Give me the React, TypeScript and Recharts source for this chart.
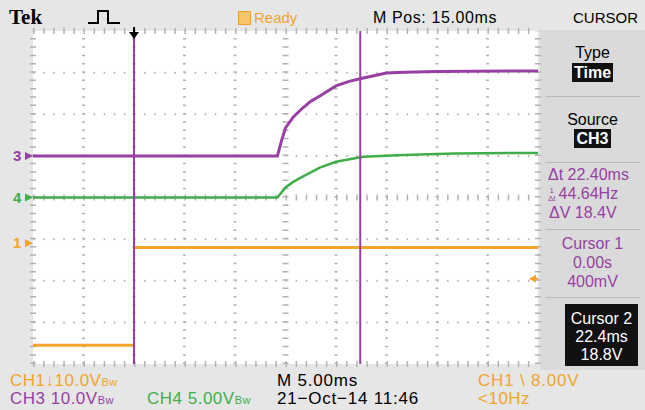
import React from "react";
import {
  LineChart,
  Line,
  XAxis,
  YAxis,
  ReferenceLine,
  ReferenceDot,
} from "recharts";

// time axis in ms (10 div x 5 ms), vertical axis in divisions
const TIME_TICKS = [0, 5, 10, 15, 20, 25, 30, 35, 40, 45, 50];
const DIV_TICKS = [-4, -3, -2, -1, 0, 1, 2, 3, 4];

// CH3 (purple, 10 V/div)
const CH3_T = [0, 24.2, 24.6, 25.0, 25.8, 26.7, 27.5, 28.4, 30.0, 31.3, 32.7, 35.0, 36.7, 40, 50];
const CH3_V = [0, 0, 3.6, 6.7, 9.4, 11.5, 13.1, 14.4, 16.8, 17.9, 18.7, 19.9, 20.1, 20.3, 20.4];

// CH4 (green, 5 V/div)
const CH4_T = [0, 24.2, 25.0, 25.8, 26.7, 28.4, 30.0, 32.7, 36.7, 41.7, 50];
const CH4_V = [0, 0, 1.2, 1.9, 2.5, 3.6, 4.3, 4.9, 5.1, 5.3, 5.35];

// CH1 (orange, 10 V/div) - null breaks the trace at the edge
const CH1_T = [0, 10, 10, 10, 50];
const CH1_V = [-24.5, -24.5, null, -1, -1];

const CH3_POS = 1.0;
const CH4_POS = 0;
const CH1_POS = -1.1;
const CH3_SCALE = 10;
const CH4_SCALE = 5;
const CH1_SCALE = 10;
const TRIG_LEVEL = -8.5;

const CURSOR1 = 10;
const CURSOR2 = 32.4;

const PURPLE = "#973fa3";
const GREEN = "#3fae4a";
const ORANGE = "#f2a52a";
const GRID = "#b2b2b2";

const FONT = "'Liberation Sans', Arial, sans-serif";

const toRows = (ts: number[], vs: (number | null)[], pos: number, scale: number) =>
  ts.map((t, i) => ({ t, y: vs[i] == null ? null : pos + (vs[i] as number) / scale }));

const ch3 = toRows(CH3_T, CH3_V, CH3_POS, CH3_SCALE);
const ch4 = toRows(CH4_T, CH4_V, CH4_POS, CH4_SCALE);
const ch1 = toRows(CH1_T, CH1_V, CH1_POS, CH1_SCALE);

const ChannelMarker = (label: string, color: string) => (props: any) => {
  const { cx, cy } = props;
  return (
    <g>
      <text x={cx - 20} y={cy + 5} fill={color} fontSize={15} fontWeight='bold' fontFamily={FONT}>
        {label}
      </text>
      <polygon points={`${cx - 8},${cy - 4} ${cx},${cy} ${cx - 8},${cy + 4}`} fill={color} />
    </g>
  );
};

const TrigPosMarker = (props: any) => {
  const { cx, cy } = props;
  return (
    <g>
      <line x1={cx} y1={cy - 4} x2={cx} y2={cy + 4} stroke='#000' strokeWidth={2} />
      <polygon points={`${cx - 5},${cy + 1} ${cx + 5},${cy + 1} ${cx},${cy + 8}`} fill='#000' />
    </g>
  );
};

const TrigLevelMarker = (props: any) => {
  const { cx, cy } = props;
  return (
    <g>
      <polygon points={`${cx - 9},${cy} ${cx - 2},${cy - 4} ${cx - 2},${cy + 4}`} fill={ORANGE} />
      <line x1={cx - 3} y1={cy} x2={cx} y2={cy} stroke={ORANGE} strokeWidth={2} />
    </g>
  );
};

const Txt = ({
  x,
  y,
  color = "#000",
  size = 17,
  children,
  style = {},
}: {
  x: number;
  y: number;
  color?: string;
  size?: number;
  children: React.ReactNode;
  style?: React.CSSProperties;
}) => (
  <div
    style={{
      position: "absolute",
      left: x,
      top: y,
      color,
      fontSize: size,
      fontFamily: FONT,
      lineHeight: 1,
      whiteSpace: "nowrap",
      ...style,
    }}
  >
    {children}
  </div>
);

const Center = ({
  y,
  color = "#000",
  size = 16,
  children,
  box,
  left = 540,
  width = 105,
}: {
  y: number;
  color?: string;
  size?: number;
  children: React.ReactNode;
  box?: boolean;
  left?: number;
  width?: number;
}) => (
  <div
    style={{
      position: "absolute",
      left,
      width,
      top: y,
      textAlign: "center",
      fontFamily: FONT,
      fontSize: size,
      lineHeight: 1,
      color,
    }}
  >
    <span
      style={
        box
          ? { background: "#111", color: "#fff", padding: "1px 2px", fontWeight: "bold" }
          : {}
      }
    >
      {children}
    </span>
  </div>
);

const Sep = ({ y }: { y: number }) => (
  <div
    style={{
      position: "absolute",
      left: 546,
      width: 94,
      top: y,
      height: 1,
      background: "#b8b8b8",
    }}
  />
);

const Bw = () => <span style={{ fontSize: 11 }}>Bw</span>;

export default function App() {
  return (
    <div
      style={{
        position: "absolute",
        left: 0,
        top: 0,
        width: 645,
        height: 410,
        overflow: "hidden",
        background: "#e6e6e6",
      }}
    >
      <div
        style={{
          position: "absolute",
          left: 540,
          top: 30,
          width: 105,
          height: 340,
          background: "#dadada",
        }}
      />
      {/* screen background */}
      <div
        style={{
          position: "absolute",
          left: 33,
          top: 31,
          width: 505,
          height: 333,
          background: "#ffffff",
        }}
      />
      <div style={{ position: "absolute", left: 0, top: 0 }}>
        <LineChart
          width={645}
          height={410}
          margin={{ top: 31, right: 107, bottom: 46, left: 33 }}
        >
          <XAxis
            type='number'
            dataKey='t'
            domain={[0, 50]}
            ticks={TIME_TICKS}
            hide
            allowDataOverflow
          />
          <YAxis type='number' domain={[-4, 4]} ticks={DIV_TICKS} hide allowDataOverflow />

          {DIV_TICKS.map((d) => (
            <ReferenceLine
              key={`h${d}`}
              y={d}
              stroke={GRID}
              strokeWidth={d === 0 || Math.abs(d) === 4 ? 6 : 2}
              strokeDasharray='1.5 8.6'
            />
          ))}
          {TIME_TICKS.map((t) => (
            <ReferenceLine
              key={`v${t}`}
              x={t}
              stroke={GRID}
              strokeWidth={t === 25 || t === 0 || t === 50 ? 6 : 3}
              strokeDasharray='1.5 6.82'
            />
          ))}

          <Line
            data={ch1}
            dataKey='y'
            type='linear'
            stroke={ORANGE}
            strokeWidth={3}
            dot={false}
            isAnimationActive={false}
          />
          <Line
            data={ch4}
            dataKey='y'
            type='linear'
            stroke={GREEN}
            strokeWidth={2.5}
            dot={false}
            isAnimationActive={false}
          />
          <Line
            data={ch3}
            dataKey='y'
            type='linear'
            stroke={PURPLE}
            strokeWidth={3}
            dot={false}
            isAnimationActive={false}
          />

          <ReferenceLine x={CURSOR1} stroke={PURPLE} strokeWidth={2} />
          <ReferenceLine x={CURSOR2} stroke={PURPLE} strokeWidth={2} />

          <ReferenceDot x={0} y={CH3_POS} ifOverflow='visible' shape={ChannelMarker("3", PURPLE)} />
          <ReferenceDot x={0} y={CH4_POS} ifOverflow='visible' shape={ChannelMarker("4", GREEN)} />
          <ReferenceDot x={0} y={CH1_POS} ifOverflow='visible' shape={ChannelMarker("1", ORANGE)} />
          <ReferenceDot x={CURSOR1} y={4} ifOverflow='visible' shape={TrigPosMarker} />
          <ReferenceDot
            x={50}
            y={CH1_POS + TRIG_LEVEL / CH1_SCALE}
            ifOverflow='visible'
            shape={TrigLevelMarker}
          />
        </LineChart>
      </div>

      {/* top bar */}
      <Txt x={9} y={7} size={21} style={{ fontFamily: "'Liberation Serif', serif", fontWeight: "bold" }}>
        Tek
      </Txt>
      <svg style={{ position: "absolute", left: 86, top: 8 }} width={40} height={18}>
        <path d='M2 15 H12 V3 H22 V15 H34' fill='none' stroke='#000' strokeWidth={2} />
      </svg>
      <div
        style={{
          position: "absolute",
          left: 238,
          top: 11,
          width: 11,
          height: 12,
          background: "#f6c56a",
          border: "1px solid #f0a030",
        }}
      />
      <Txt x={254} y={10} size={15} color={ORANGE}>
        Ready
      </Txt>
      <Txt x={373} y={10} size={16} style={{ letterSpacing: 0.6 }}>
        M Pos: 15.00ms
      </Txt>
      <Txt x={573} y={10} size={15}>
        CURSOR
      </Txt>

      {/* right menu */}
      <Center y={45}>Type</Center>
      <Center y={65} box>
        Time
      </Center>
      <Sep y={96} />
      <Center y={112}>Source</Center>
      <Center y={131} box>
        CH3
      </Center>
      <Sep y={162} />
      <Txt x={548} y={167} size={16} color={PURPLE}>
        Δt 22.40ms
      </Txt>
      <Txt x={548} y={186} size={16} color={PURPLE}>
        <span
          style={{
            display: "inline-block",
            fontSize: 8,
            lineHeight: "8px",
            textAlign: "center",
            verticalAlign: "middle",
            marginRight: 3,
          }}
        >
          1<br />Δt
        </span>
        44.64Hz
      </Txt>
      <Txt x={549} y={205} size={16} color={PURPLE}>
        ΔV 18.4V
      </Txt>
      <Sep y={229} />
      <Center y={236} color={PURPLE}>
        Cursor 1
      </Center>
      <Center y={255} color={PURPLE}>
        0.00s
      </Center>
      <Center y={274} color={PURPLE}>
        400mV
      </Center>
      <Sep y={297} />
      <div
        style={{
          position: "absolute",
          left: 565,
          top: 304,
          width: 73,
          height: 62,
          background: "#111",
        }}
      />
      <Center y={311} left={565} width={73} color='#fff'>
        Cursor 2
      </Center>
      <Center y={329} left={565} width={73} color='#fff'>
        22.4ms
      </Center>
      <Center y={347} left={565} width={73} color='#fff'>
        18.8V
      </Center>

      {/* bottom status */}
      <Txt x={10} y={372} color={ORANGE} style={{ letterSpacing: 0.5 }}>
        CH1↓10.0V<Bw />
      </Txt>
      <Txt x={277} y={372} style={{ letterSpacing: 0.8 }}>
        M 5.00ms
      </Txt>
      <Txt x={478} y={372} color={ORANGE} style={{ letterSpacing: 0.8 }}>
        CH1 \ 8.00V
      </Txt>
      <Txt x={10} y={390} color={PURPLE} style={{ letterSpacing: 0.5 }}>
        CH3  10.0V<Bw />
      </Txt>
      <Txt x={147} y={390} color={GREEN} style={{ letterSpacing: 0.5 }}>
        CH4  5.00V<Bw />
      </Txt>
      <Txt x={277} y={390} style={{ letterSpacing: 0.8 }}>
        21−Oct−14 11:46
      </Txt>
      <Txt x={478} y={390} color={ORANGE} style={{ letterSpacing: 0.5 }}>
        &lt;10Hz
      </Txt>
    </div>
  );
}
